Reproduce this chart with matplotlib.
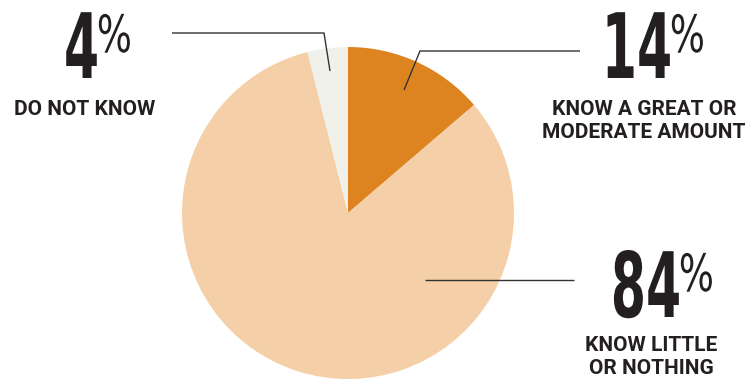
import matplotlib
matplotlib.use('Agg')
import matplotlib.pyplot as plt
from matplotlib.patheffects import AbstractPathEffect
from matplotlib.transforms import Affine2D

# survey shares
labels = ['KNOW A GREAT OR\nMODERATE AMOUNT', 'KNOW LITTLE\nOR NOTHING', 'DO NOT KNOW']
values = [14, 84, 4]
colors = ['#DD8420', '#F5CFA7', '#F1F1EC']

ink = '#231F20'


class Squeeze(AbstractPathEffect):
    """Narrow the glyphs horizontally around the left, centre or right edge."""

    def __init__(self, sx, anchor='left'):
        super().__init__()
        self.sx = sx
        self.anchor = anchor

    def draw_path(self, renderer, gc, tpath, affine, rgbFace=None):
        ext = tpath.get_extents()
        cx = {'left': ext.x0, 'center': (ext.x0 + ext.x1) / 2, 'right': ext.x1}[self.anchor]
        sq = Affine2D().translate(-cx, 0).scale(self.sx, 1).translate(cx, 0)
        renderer.draw_path(gc, tpath, sq + affine, rgbFace)


fig = plt.figure(figsize=(7.46, 3.79), dpi=100)
ax = fig.add_axes([0, 0, 1, 1])

ax.pie(values, colors=colors, startangle=90, counterclock=False,
       center=(348, 166), radius=166, frame=True,
       wedgeprops=dict(linewidth=0))
ax.set_xlim(0, 746)
ax.set_ylim(0, 379)
ax.set_aspect('equal')
ax.axis('off')

sub = dict(family='Roboto', fontweight='bold', color=ink, fontsize=15,
           ha='center', va='baseline')

# callouts: (value, number right edge, number baseline, label centre x, label baseline, label)
callouts = [
    (values[2], 98, 301, 85, 264, labels[2]),
    (values[0], 671, 301, 644, 264, labels[0]),
    (values[1], 680, 62, 651, 28, labels[1]),
]
for v, xr, yb, lx, ly, lab in callouts:
    ax.text(xr + 3, yb, '%d' % v, family='DejaVu Sans', fontweight='bold', color=ink,
            fontsize=65, ha='right', va='baseline',
            path_effects=[Squeeze(0.56, 'right')])
    ax.text(xr - 2, yb + 26, '%', family='DejaVu Sans', color=ink,
            fontsize=37, ha='left', va='baseline',
            path_effects=[Squeeze(0.72, 'left')])
    for k, line in enumerate(lab.split('\n')):
        ax.text(lx, ly - 23 * k, line, **sub)

# leader lines
lc = dict(color='#333333', lw=1.0, solid_capstyle='butt')
ax.plot([172, 324, 330], [346, 346, 308], **lc)
ax.plot([404, 420, 580], [289, 328, 328], **lc)
ax.plot([425, 574], [99, 99], **lc)

plt.savefig('out.png', dpi=100)
